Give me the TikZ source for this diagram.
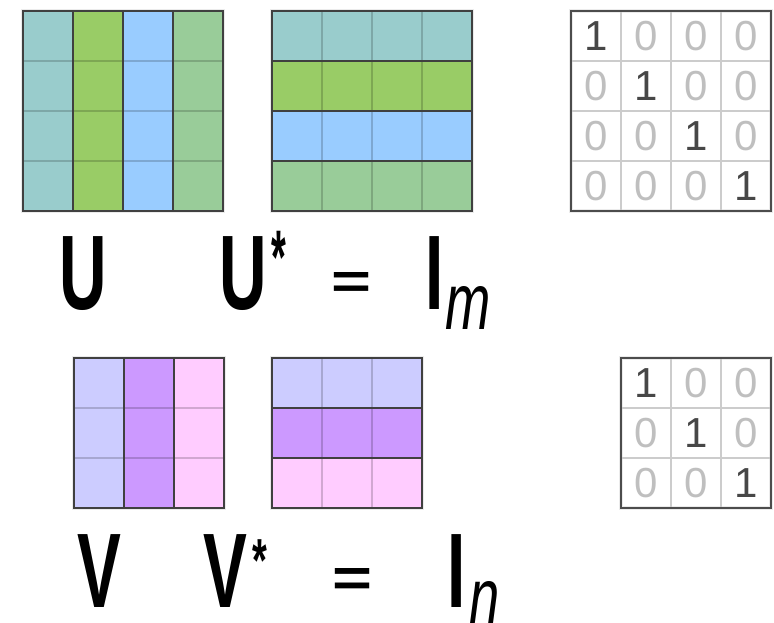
\documentclass[tikz,border=0pt]{standalone}
\usepackage{graphicx}
\usepackage{fontspec}
\setmainfont{Liberation Sans}
\usepackage{tikz}
\usetikzlibrary{positioning, calc}

\definecolor{uA}{HTML}{99CCCC}
\definecolor{uB}{HTML}{99CC66}
\definecolor{uC}{HTML}{99CCFF}
\definecolor{uD}{HTML}{99CC99}
\definecolor{vA}{HTML}{CCCCFF}
\definecolor{vB}{HTML}{CC99FF}
\definecolor{vC}{HTML}{FFCCFF}

\newcommand{\slimtext}[1]{\scalebox{0.62}[1]{#1}}

\begin{document}
\begin{tikzpicture}[
    x=1pt, y=-1pt,
    halo/.style={draw=black!8, line width=4pt},
    band/.style={draw=black!75, line width=1.6pt},
    inner/.style={draw=black, draw opacity=0.18, line width=1.6pt},
    idgrid/.style={draw=black!20, line width=1.3pt},
    idframe/.style={draw=black!70, line width=1.6pt},
    dig1/.style={text=black!72, inner sep=0, font=\fontsize{42}{42}\selectfont},
    dig0/.style={text=black!25, inner sep=0, font=\fontsize{42}{42}\selectfont},
    sym/.style={inner sep=0, anchor=base, font=\fontsize{106}{110}\selectfont\bfseries},
    eqsign/.style={inner sep=0, anchor=south, font=\bfseries},
    star/.style={inner sep=0, anchor=base, font=\fontsize{76}{76}\selectfont\bfseries},
    idx/.style={inner sep=0, anchor=base, font=\fontsize{80}{80}\selectfont\itshape}
]
\useasboundingbox (0,0) rectangle (774,623);

% U : columns
\draw[halo] (23,11) rectangle ++(200,200);
\foreach \col [count=\i from 0] in {uA,uB,uC,uD}
    \fill[\col] ({23+50*\i},11) rectangle ++(50,200);
\foreach \j in {1,2,3}
    \draw[inner] (23,{11+50*\j}) -- ++(200,0);
\foreach \i in {0,...,3}
    \draw[band] ({23+50*\i},11) rectangle ++(50,200);

% U* : rows
\draw[halo] (272,11) rectangle ++(200,200);
\foreach \col [count=\j from 0] in {uA,uB,uC,uD}
    \fill[\col] (272,{11+50*\j}) rectangle ++(200,50);
\foreach \i in {1,2,3}
    \draw[inner] ({272+50*\i},11) -- ++(0,200);
\foreach \j in {0,...,3}
    \draw[band] (272,{11+50*\j}) rectangle ++(200,50);

% I_m
\draw[halo] (571,11) rectangle ++(200,200);
\foreach \k in {1,2,3} {
    \draw[idgrid] ({571+50*\k},11) -- ++(0,200);
    \draw[idgrid] (571,{11+50*\k}) -- ++(200,0);
}
\draw[idframe] (571,11) rectangle ++(200,200);
\foreach \r in {0,...,3}
    \foreach \c in {0,...,3} {
        \pgfmathsetmacro\digit{int(\r==\c)}
        \node[dig\digit] (im-\r-\c) at ({596+50*\c},{36+50*\r}) {\digit};
    }

% V : columns
\draw[halo] (74,358) rectangle ++(150,150);
\foreach \col [count=\i from 0] in {vA,vB,vC}
    \fill[\col] ({74+50*\i},358) rectangle ++(50,150);
\foreach \j in {1,2}
    \draw[inner] (74,{358+50*\j}) -- ++(150,0);
\foreach \i in {0,...,2}
    \draw[band] ({74+50*\i},358) rectangle ++(50,150);

% V* : rows
\draw[halo] (272,358) rectangle ++(150,150);
\foreach \col [count=\j from 0] in {vA,vB,vC}
    \fill[\col] (272,{358+50*\j}) rectangle ++(150,50);
\foreach \i in {1,2}
    \draw[inner] ({272+50*\i},358) -- ++(0,150);
\foreach \j in {0,...,2}
    \draw[band] (272,{358+50*\j}) rectangle ++(150,50);

% I_n
\draw[halo] (621,358) rectangle ++(150,150);
\foreach \k in {1,2} {
    \draw[idgrid] ({621+50*\k},358) -- ++(0,150);
    \draw[idgrid] (621,{358+50*\k}) -- ++(150,0);
}
\draw[idframe] (621,358) rectangle ++(150,150);
\foreach \r in {0,...,2}
    \foreach \c in {0,...,2} {
        \pgfmathsetmacro\digit{int(\r==\c)}
        \node[dig\digit] (in-\r-\c) at ({646+50*\c},{383+50*\r}) {\digit};
    }

% labels, first row
\node[sym] (labU) at (83,309) {\slimtext{U}};
\node[sym] (labUs) at (243,309) {\slimtext{U}};
\node[star] (starU) at (278.5,283) {\scalebox{0.5}[1]{*}};
\node[eqsign] (eqU) at (351.5,299) {\resizebox{40pt}{26pt}{=}};
\node[sym] (labIm) at (435,309) {\slimtext{I}};
\node[idx] (subm) at (468,329) {\scalebox{0.68}[1]{m}};

% labels, second row
\node[sym] (labV) at (99,607) {\slimtext{V}};
\node[sym] (labVs) at (225,607) {\slimtext{V}};
\node[star] (starV) at (259.5,581) {\scalebox{0.5}[0.8]{*}};
\node[eqsign] (eqV) at (352,597) {\resizebox{40pt}{28pt}{=}};
\node[sym] (labIn) at (457,607) {\slimtext{I}};
\node[idx] (subn) at (485,624) {\scalebox{0.68}[1]{n}};
\end{tikzpicture}
\end{document}
